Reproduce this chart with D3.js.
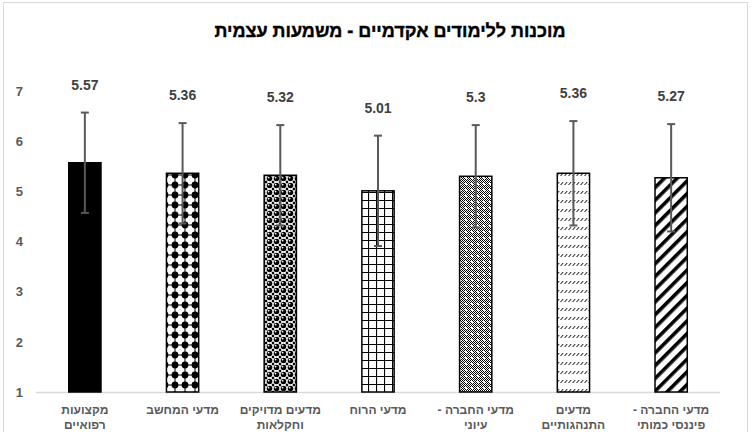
<!DOCTYPE html>
<html>
<head>
<meta charset="utf-8">
<script src="https://cdn.jsdelivr.net/npm/d3@7"></script>
<style>
  body { margin: 0; background: #fff; }
  text { font-family: "Liberation Sans", Arial, sans-serif; }
</style>
</head>
<body>
<div class="canvas"></div>
<script>
// data
const categories = [
    ['מקצועות', 'רפואיים'],
    ['מדעי המחשב'],
    ['מדעים מדויקים', 'וחקלאות'],
    ['מדעי הרוח'],
    ['מדעי החברה -', 'עיוני'],
    ['מדעים', 'התנהגותיים'],
    ['מדעי החברה -', 'פיננסי כמותי']
];
const means = [5.57, 5.36, 5.32, 5.01, 5.3, 5.36, 5.27];
const sds = [1.0, 1.0, 1.0, 1.1, 1.02, 1.04, 1.07];
const yTicks = [1, 2, 3, 4, 5, 6, 7];
const title = 'מוכנות ללימודים אקדמיים - משמעות עצמית';

const width = 752, height = 432;

const svg = d3.select('.canvas')
    .append('svg')
    .attr('width', width)
    .attr('height', height);

// chart frame
svg.append('rect')
    .attr('x', 3.5).attr('y', 2.5)
    .attr('width', 744).attr('height', 440)
    .attr('fill', '#fff')
    .attr('stroke', '#d9d9d9');

// fill patterns
const defs = svg.append('defs');

const p2 = defs.append('pattern').attr('id', 'pat2')
    .attr('patternUnits', 'userSpaceOnUse').attr('width', 10).attr('height', 10);
p2.append('rect').attr('width', 10).attr('height', 10).attr('fill', '#fff');
p2.append('circle').attr('cx', 5).attr('cy', 5).attr('r', 3.4).attr('fill', '#000');
p2.append('path').attr('d', 'M5,0V10M0,5H10').attr('stroke', '#000').attr('stroke-width', 1);

const p3 = defs.append('pattern').attr('id', 'pat3')
    .attr('patternUnits', 'userSpaceOnUse').attr('width', 7).attr('height', 7);
p3.append('rect').attr('width', 7).attr('height', 7).attr('fill', '#fff');
p3.append('circle').attr('cx', 3.5).attr('cy', 3.5).attr('r', 2.8).attr('fill', '#000');
p3.append('circle').attr('cx', 2.6).attr('cy', 2.6).attr('r', 0.9).attr('fill', '#fff');
p3.append('path').attr('d', 'M0,0h1.2v1.2h-1.2zM5.8,0h1.2v1.2h-1.2zM0,5.8h1.2v1.2h-1.2zM5.8,5.8h1.2v1.2h-1.2z').attr('fill', '#000');

const p4 = defs.append('pattern').attr('id', 'pat4')
    .attr('patternUnits', 'userSpaceOnUse').attr('width', 8).attr('height', 8);
p4.append('rect').attr('width', 8).attr('height', 8).attr('fill', '#fff');
p4.append('path').attr('d', 'M0.5,0V8M0,0.5H8').attr('stroke', '#000').attr('stroke-width', 1.2);

const p5 = defs.append('pattern').attr('id', 'pat5')
    .attr('patternUnits', 'userSpaceOnUse').attr('width', 6).attr('height', 6);
p5.append('rect').attr('width', 6).attr('height', 6).attr('fill', '#fff');
let checker = '';
for (let i = 0; i < 6; i++) {
    for (let j = 0; j < 6; j++) {
        if ((i + j) % 2 === 0 && !(i >= 3 && i <= 4 && j >= 3 && j <= 4)) checker += `M${i},${j}h1v1h-1z`;
    }
}
p5.append('path').attr('d', checker).attr('fill', '#000');

const p6 = defs.append('pattern').attr('id', 'pat6')
    .attr('patternUnits', 'userSpaceOnUse').attr('width', 4).attr('height', 9);
p6.append('rect').attr('width', 4).attr('height', 9).attr('fill', '#fff');
p6.append('path').attr('d', 'M0.6,5L3.2,2').attr('stroke', '#000').attr('stroke-width', 1);

const p7 = defs.append('pattern').attr('id', 'pat7')
    .attr('patternUnits', 'userSpaceOnUse').attr('width', 9).attr('height', 9)
    .attr('patternTransform', 'rotate(45)');
p7.append('rect').attr('width', 9).attr('height', 9).attr('fill', '#fff');
p7.append('rect').attr('width', 3.6).attr('height', 9).attr('fill', '#000');

const fills = ['#000', 'url(#pat2)', 'url(#pat3)', 'url(#pat4)', 'url(#pat5)', 'url(#pat6)', 'url(#pat7)'];

// plot area
const margin = { left: 36, right: 32, top: 91, bottom: 40 };
const plotBottom = height - margin.bottom;

const x = d3.scaleBand()
    .domain(d3.range(categories.length))
    .range([margin.left, width - margin.right])
    .paddingInner(0.67)
    .paddingOuter(0.335);

const y = d3.scaleLinear()
    .domain([1, 7])
    .range([plotBottom, margin.top]);

// title
svg.append('text')
    .attr('x', 390).attr('y', 37)
    .attr('text-anchor', 'middle')
    .attr('direction', 'rtl')
    .attr('font-size', 18)
    .attr('font-weight', 'bold')
    .attr('fill', '#000')
    .attr('stroke', '#000')
    .attr('stroke-width', 0.4)
    .text(title);

// y axis
const yAxis = d3.axisLeft(y).tickValues(yTicks).tickFormat(d3.format('d')).tickSize(0).tickPadding(0);
const yAxisGroup = svg.append('g')
    .attr('transform', `translate(23, 0)`)
    .call(yAxis);
yAxisGroup.select('.domain').remove();
yAxisGroup.selectAll('text')
    .attr('fill', '#595959')
    .attr('font-size', 13)
    .attr('font-weight', 'bold')
    .attr('font-family', '"Liberation Sans", Arial, sans-serif');

// x axis line
svg.append('line')
    .attr('x1', margin.left).attr('x2', width - margin.right)
    .attr('y1', plotBottom + 0.5).attr('y2', plotBottom + 0.5)
    .attr('stroke', '#d9d9d9').attr('stroke-width', 1.5);

// bars
svg.append('g').selectAll('rect')
    .data(means)
    .enter()
    .append('rect')
    .attr('x', (d, i) => x(i))
    .attr('y', d => y(d))
    .attr('width', x.bandwidth())
    .attr('height', d => y(1) - y(d))
    .attr('fill', (d, i) => fills[i])
    .attr('stroke', '#000')
    .attr('stroke-width', 1.5);

// error bars
const err = svg.append('g')
    .attr('stroke', '#595959')
    .attr('stroke-width', 2);
means.forEach((m, i) => {
    const cx = x(i) + x.bandwidth() / 2;
    err.append('line')
        .attr('x1', cx).attr('x2', cx)
        .attr('y1', y(m + sds[i])).attr('y2', y(m - sds[i]));
    err.append('line')
        .attr('x1', cx - 4).attr('x2', cx + 4)
        .attr('y1', y(m + sds[i])).attr('y2', y(m + sds[i]));
    err.append('line')
        .attr('x1', cx - 4).attr('x2', cx + 4)
        .attr('y1', y(m - sds[i])).attr('y2', y(m - sds[i]));
});

// value labels
svg.append('g').selectAll('text')
    .data(means)
    .enter()
    .append('text')
    .attr('x', (d, i) => x(i) + x.bandwidth() / 2)
    .attr('y', (d, i) => y(d + sds[i]) - 23)
    .attr('text-anchor', 'middle')
    .attr('font-size', 14)
    .attr('font-weight', 'bold')
    .attr('fill', '#404040')
    .text(d => d);

// category labels
const cat = svg.append('g').selectAll('text')
    .data(categories)
    .enter()
    .append('text')
    .attr('x', (d, i) => x(i) + x.bandwidth() / 2)
    .attr('y', plotBottom + 22)
    .attr('text-anchor', 'middle')
    .attr('direction', 'rtl')
    .attr('font-size', 12)
    .attr('font-weight', 'bold')
    .attr('fill', '#595959');
cat.selectAll('tspan')
    .data(d => d)
    .enter()
    .append('tspan')
    .attr('x', function () { return this.parentNode.getAttribute('x'); })
    .attr('dy', (d, j) => j === 0 ? 0 : 15)
    .text(d => d);
</script>
</body>
</html>
